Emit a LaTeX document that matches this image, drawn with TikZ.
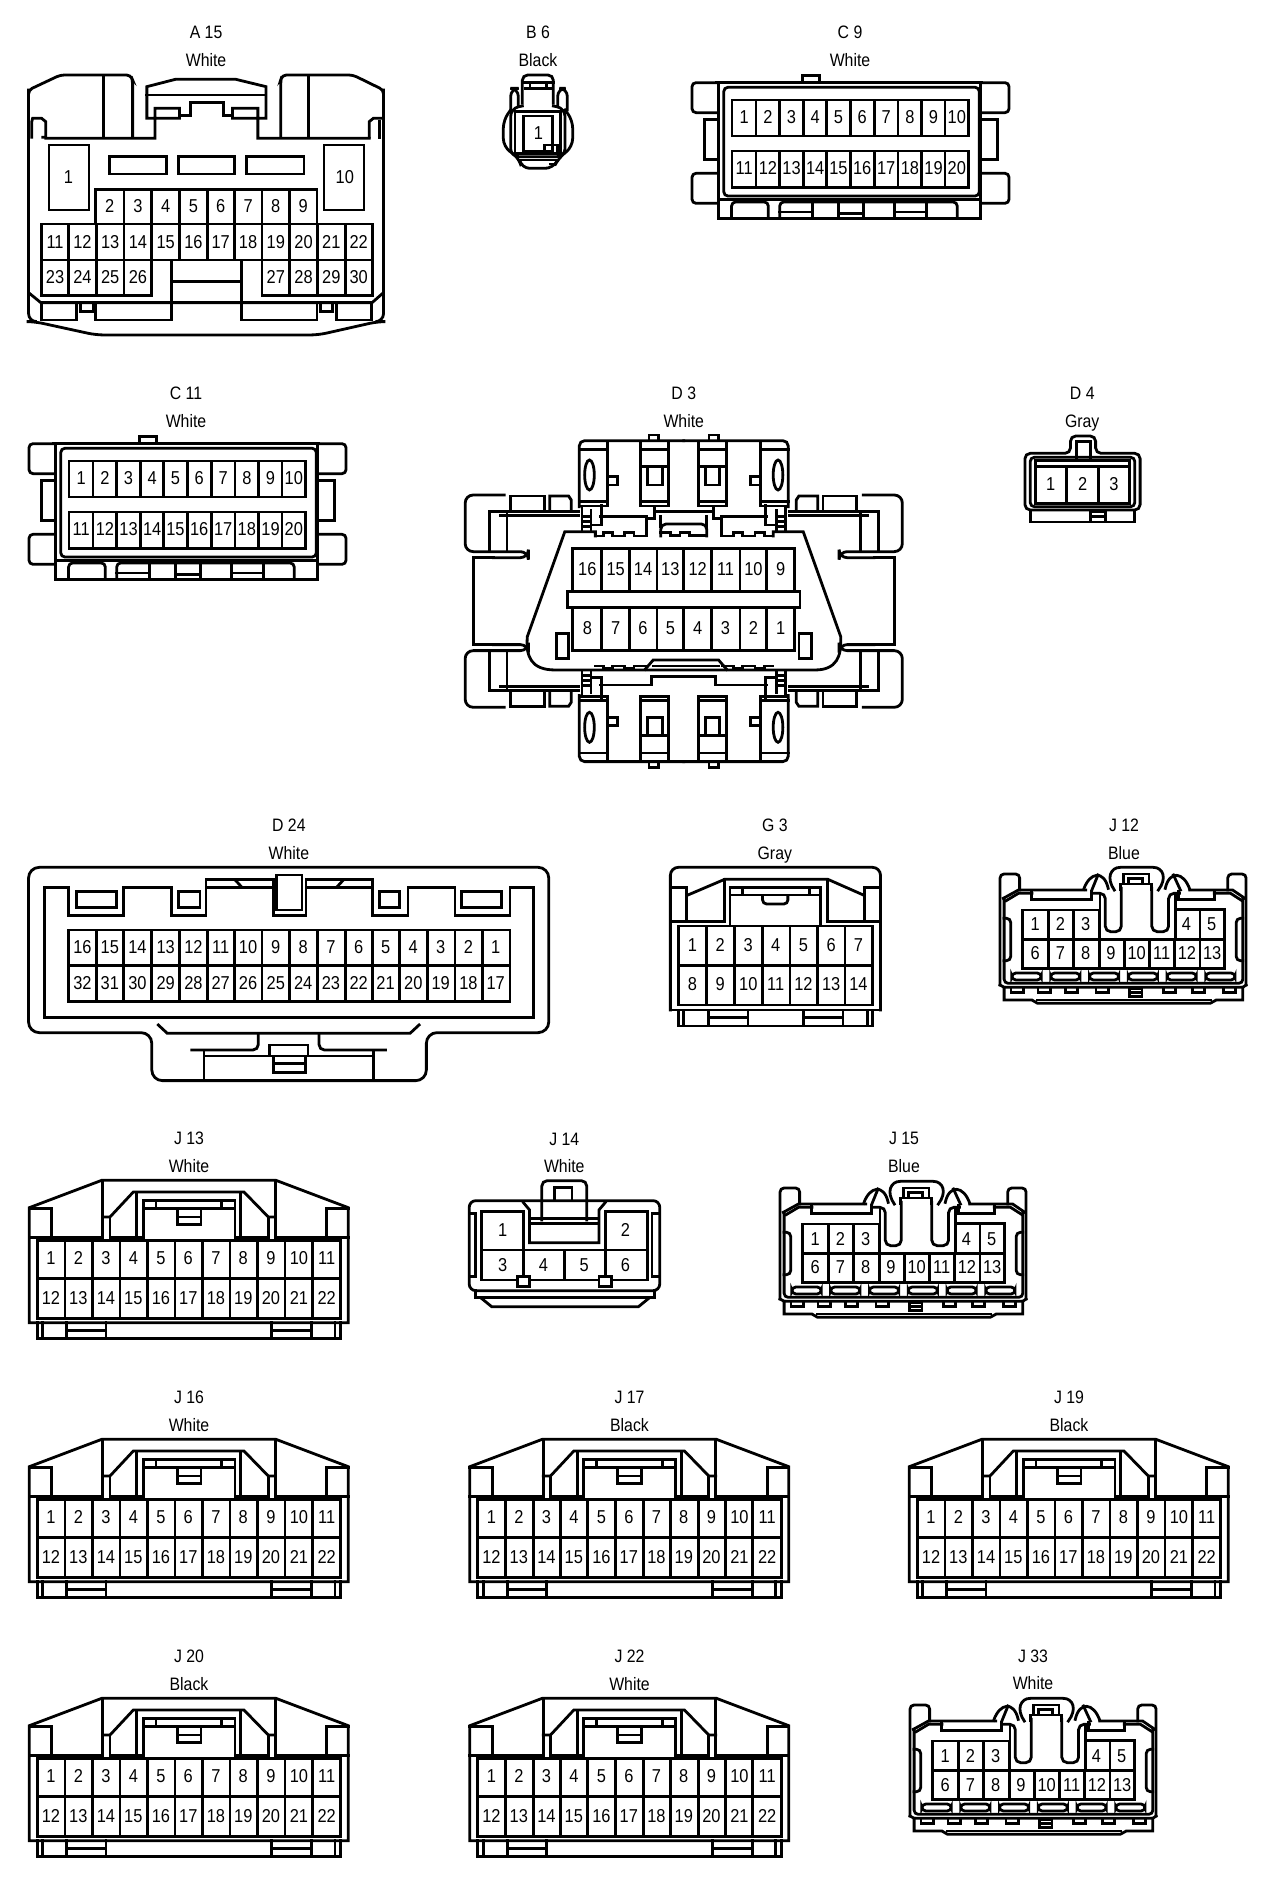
\documentclass[tikz,border=0pt]{standalone}
\usepackage{fontspec}
\newfontfamily\pinfont[FakeStretch=0.88]{Liberation Sans}
\usetikzlibrary{positioning, calc}

\tikzset{
    pinnum/.style={font=\pinfont\fontsize{14}{14}\selectfont, inner sep=0pt, text height=10pt, text depth=0pt},
    lbl/.style={font=\pinfont\fontsize{13.5}{14}\selectfont, inner sep=0pt, text height=10pt, text depth=0pt},
    cropA/.style={xscale=0.408, yscale=0.3333},
    cropD/.style={xscale=0.5357, yscale=0.3333},
    cropT/.style={scale=0.3333},
    % two row white block with ten pins a row
    clipten/.pic={
        \draw[rounded corners=3pt] (190,338) -- (125,338) -- (125,248) -- (190,248);
        \draw[rounded corners=3pt] (190,520) -- (125,520) -- (125,610) -- (190,610);
        \draw (190,358) -- (155,358) -- (155,478) -- (190,478);
        \draw[rounded corners=3pt] (835,338) -- (902,338) -- (902,248) -- (835,248);
        \draw[rounded corners=3pt] (835,520) -- (902,520) -- (902,610) -- (835,610);
        \draw (835,358) -- (873,358) -- (873,478) -- (835,478);
        \draw (395,246) -- (395,226) -- (438,226) -- (438,246);
        \draw (185,248) -- (835,248);
        \draw (190,248) -- (190,655) -- (833,655) -- (833,248);
        \draw[rounded corners=3pt] (203,262) rectangle (829,588);
        \draw (190,598) -- (833,598);
        \draw (223,300) rectangle (803,408);
        \draw (223,453) rectangle (803,563);
        \foreach \x in {282,340,398,455,513,572,630,688,745} {
            \draw (\x,300) -- (\x,408);
            \draw (\x,453) -- (\x,563);
        }
        \foreach \x [count=\n] in {253,311,369,427,484,542,601,659,717,774} {
            \pgfmathtruncatemacro{\m}{\n+10}
            \node[pinnum] (p\n) at (\x,352) {\n};
            \node[pinnum] (p\m) at (\x,505) {\m};
        }
        % tabs along the foot
        \draw[rounded corners=3pt] (222,652) -- (222,606) -- (312,606) -- (312,652);
        \draw[rounded corners=3pt] (340,652) -- (340,606) -- (775,606) -- (775,652);
        \draw (340,636) -- (420,636) -- (420,606);
        \draw (420,636) -- (420,652);
        \draw (484,606) -- (484,652);
        \draw (484,640) -- (545,640);
        \draw (545,606) -- (545,652);
        \draw (622,606) -- (622,652);
        \draw (622,636) -- (700,636);
        \draw (700,606) -- (700,652);
    },
    % the eleven by two housing
    twentytwo/.pic={
        \draw (88,230) -- (305,148) -- (828,148) -- (1045,230) -- (1045,575) -- (88,575) -- cycle;
        \draw (308,155) -- (308,320) -- (88,320);
        \draw (826,155) -- (826,320) -- (1045,320);
        \draw (88,232) -- (155,232) -- (155,315);
        \draw (1045,232) -- (980,232) -- (980,315);
        \draw (308,258) -- (330,258) -- (400,183) -- (732,183) -- (805,258) -- (826,258);
        \draw (330,258) -- (330,320) -- (430,320);
        \draw (805,258) -- (805,320) -- (705,320);
        \draw (410,183) -- (410,318);
        \draw (722,183) -- (722,318);
        \draw (430,325) -- (430,208) -- (705,208) -- (705,325);
        \draw (430,232) -- (705,232);
        \draw (468,208) -- (468,232);
        \draw (665,208) -- (665,232);
        \draw (532,232) -- (532,280) -- (603,280) -- (603,232);
        \draw (532,258) -- (603,258);
        \draw (112,328) rectangle (1022,562);
        \draw (112,443) -- (1022,443);
        \foreach \x in {195,278,360,442,525,608,690,773,855,937}
            \draw (\x,328) -- (\x,562);
        \foreach \x [count=\n] in {153,235,318,400,483,565,648,730,813,897,980} {
            \pgfmathtruncatemacro{\m}{\n+11}
            \node[pinnum] (p\n) at (\x,381) {\n};
            \node[pinnum] (p\m) at (\x,501) {\m};
        }
        \draw (112,575) -- (112,622) -- (1022,622) -- (1022,575);
        \foreach \x in {128,200,318,815,935,1005}
            \draw (\x,575) -- (\x,622);
        \draw (200,598) -- (318,598);
        \draw (815,598) -- (935,598);
    },
    % the thirteen pin shroud
    thirteen/.pic={
        \draw[rounded corners=3pt] (880,525) -- (880,192) -- (928,192) -- (928,240);
        \draw[rounded corners=3pt] (1438,240) -- (1438,192) -- (1483,192) -- (1483,525);
        \draw (888,265) -- (925,240) -- (1090,240);
        \draw (895,272) -- (925,250) -- (958,250);
        \draw (1345,240) -- (1450,240) -- (1480,265);
        \draw (1405,250) -- (1445,250) -- (1473,272);
        \draw (1085,238) .. controls (1100,185) and (1135,180) .. (1145,235);
        \draw (1105,240) -- (1120,195);
        \draw (1285,235) .. controls (1295,180) and (1330,185) .. (1345,238);
        \draw (1305,195) -- (1322,240);
        \draw (1160,240) .. controls (1140,205) and (1150,172) .. (1175,172) -- (1255,172) .. controls (1280,172) and (1290,205) .. (1268,240);
        \draw (1182,222) -- (1182,192) -- (1245,192) -- (1245,222);
        \draw (1195,222) -- (1195,205) -- (1230,205) -- (1230,222);
        \draw (1175,240) -- (1175,222) -- (1252,222) -- (1252,240);
        \draw[rounded corners=4pt] (1105,250) -- (1138,250) -- (1138,365) -- (1177,365) -- (1177,235);
        \draw (1125,250) -- (1125,300);
        \draw[rounded corners=4pt] (1252,235) -- (1252,365) -- (1293,365) -- (1293,250) -- (1320,250);
        \draw (1310,250) -- (1310,300);
        \draw[rounded corners=3pt] (890,265) -- (890,520) -- (1475,520) -- (1475,265);
        \draw (880,525) -- (890,532) -- (1475,532) -- (1483,525);
        \draw (958,245) -- (958,268) -- (1105,268) -- (1105,245);
        \draw (1318,245) -- (1318,268) -- (1405,268) -- (1405,245);
        % pin block
        \draw (935,475) -- (935,300) -- (1123,300) -- (1123,388) -- (1310,388) -- (1310,298) -- (1430,298) -- (1430,475) -- cycle;
        \draw (935,388) -- (1123,388);
        \draw (1310,388) -- (1430,388);
        \foreach \x in {998,1060,1370} \draw (\x,300) -- (\x,475);
        \foreach \x in {1123,1185,1247,1308} \draw (\x,388) -- (\x,475);
        \foreach \x [count=\n] in {966,1028,1090,1337,1399}
            \node[pinnum] (p\n) at (\x,343) {\n};
        \foreach \x [count=\n from 6] in {966,1028,1090,1152,1215,1276,1338,1400}
            \node[pinnum] (p\n) at (\x,430) {\n};
        % side grips
        \draw[rounded corners=3pt] (890,325) -- (906,325) -- (906,452) -- (890,452);
        \draw[rounded corners=3pt] (1475,325) -- (1459,325) -- (1459,452) -- (1475,452);
        % slots
        \foreach \x in {945,1040,1135,1230,1325,1420}
            \draw[rounded corners=3pt] (\x-36,489) rectangle (\x+36,510);
        % foot
        \draw (890,532) -- (890,570) -- (958,570) -- (972,580) -- (1395,580) -- (1410,570) -- (1475,570) -- (1475,532);
        \draw (972,570) -- (1395,570);
        \foreach \x in {922,988,1055,1130,1295,1367,1443}
            \draw (\x-15,536) -- (\x-15,548) -- (\x+15,548) -- (\x+15,536);
        \draw (1198,536) rectangle (1228,560);
        \draw (1198,548) -- (1228,548);
    }
}

\begin{document}
\begin{tikzpicture}[x=0.75pt, y=-0.75pt, line width=2.1pt, line cap=rect]
    \path[use as bounding box, fill=white] (0,0) rectangle (1280,1894);

    % A 15
    \begin{scope}[cropA]
        \node[lbl] (a15id) at (505,97) {A 15};
        \node[lbl] (a15col) at (505,180) {White};
        \draw[rounded corners=3pt] (70,360) -- (70,270) -- (148,225) -- (320,225) -- (325,240) -- (325,412);
        \draw[rounded corners=3pt] (940,360) -- (940,270) -- (865,225) -- (692,225) -- (688,240) -- (688,412);
        \draw[rounded corners=6pt] (70,270) -- (70,965) -- (85,965) -- (235,1005) -- (780,1005) -- (925,965) -- (940,965) -- (940,270);
        \draw (253,228) -- (253,412);
        \draw (756,228) -- (756,412);
        \draw (112,415) -- (380,415) -- (380,325) -- (440,325) -- (440,355) -- (380,355) -- (360,355) -- (360,260) -- (430,238) -- (578,238) -- (652,260) -- (652,355) -- (570,355) -- (570,325) -- (632,325) -- (632,415) -- (905,415);
        \draw (360,285) -- (652,285);
        \draw (440,346) -- (467,346) -- (467,308) -- (547,308) -- (547,346) -- (570,346);
        \draw (105,412) -- (112,412) -- (112,365) -- (102,355) -- (80,355) -- (78,365) -- (78,412);
        \draw (905,412) -- (905,365) -- (915,355) -- (935,355);
        \draw (930,365) -- (930,412);
        \draw (120,435) rectangle (218,630);
        \draw (794,435) rectangle (892,630);
        \draw (268,470) rectangle (408,522);
        \draw (438,470) rectangle (575,522);
        \draw (605,470) rectangle (745,522);
        \node[pinnum] (a15p1) at (168,530) {1};
        \node[pinnum] (a15p10) at (845,530) {10};
        \draw (235,670) -- (235,568) -- (777,568) -- (777,670);
        \foreach \x in {304,372,440,508,574,642,710} \draw (\x,568) -- (\x,670);
        \foreach \x [count=\n from 2] in {269,338,406,474,541,608,676,743}
            \node[pinnum] (a15p\n) at (\x,618) {\n};
        \draw (102,672) rectangle (912,780);
        \foreach \x in {168,236,304,372,440,508,574,642,710,778,846} \draw (\x,672) -- (\x,780);
        \foreach \x [count=\n from 11] in {135,202,270,338,406,474,541,608,676,744,812,879}
            \node[pinnum] (a15p\n) at (\x,725) {\n};
        \draw (102,780) rectangle (372,886);
        \draw (642,780) rectangle (912,886);
        \foreach \x in {168,236,304,710,778,846} \draw (\x,780) -- (\x,886);
        \foreach \x [count=\n from 23] in {135,202,270,338}
            \node[pinnum] (a15p\n) at (\x,832) {\n};
        \foreach \x [count=\n from 27] in {676,744,812,879}
            \node[pinnum] (a15p\n) at (\x,832) {\n};
        \draw (420,780) -- (420,960) -- (235,960) -- (235,910);
        \draw (592,780) -- (592,960) -- (777,960) -- (777,910);
        \draw (420,845) -- (592,845);
        \draw (72,880) -- (100,908) -- (912,908) -- (938,880);
        \draw (102,910) -- (102,960) -- (188,960) -- (188,910);
        \draw (198,910) -- (198,935) -- (228,935) -- (228,910);
        \draw (786,910) -- (786,935) -- (815,935) -- (815,910);
        \draw (824,910) -- (824,960) -- (910,960) -- (910,910);
    \end{scope}

    % B 6
    \node[lbl] (b6id) at (538,32) {B 6};
    \node[lbl] (b6col) at (538,60) {Black};
    \begin{scope}[shift={(490,60)}, cropT]
        \draw[rounded corners=4pt] (97,130) -- (97,45) -- (190,45) -- (190,130);
        \draw (97,68) -- (190,68);
        \draw (105,85) -- (183,85);
        \draw (120,68) -- (120,85);
        \draw (170,68) -- (170,85);
        \draw[rounded corners=6pt] (62,150) -- (62,85) -- (85,85) -- (85,138);
        \draw[rounded corners=6pt] (203,138) -- (203,85) -- (232,85) -- (232,150);
        \draw[rounded corners=6pt] (62,150) -- (40,180) -- (40,260) -- (88,295) -- (95,325) -- (190,325) -- (205,295) -- (248,260) -- (248,180) -- (225,150);
        \draw[rounded corners=6pt] (97,138) -- (62,145) -- (62,290) -- (225,290) -- (225,145) -- (190,138);
        \draw (75,155) rectangle (212,280);
        \draw (100,168) rectangle (188,275);
        \node[pinnum] (b6p1) at (145,220) {1};
        \draw (163,275) -- (163,255) -- (203,255) -- (203,280) -- (163,280);
        \draw (90,300) -- (200,300);
        \draw (180,312) -- (198,312);
    \end{scope}

    % C 9, C 11
    \node[lbl] (c9id) at (850,32) {C 9};
    \node[lbl] (c9col) at (850,60) {White};
    \pic[cropA] (c9) at (641,0) {clipten};
    \node[lbl] (c11id) at (186,393) {C 11};
    \node[lbl] (c11col) at (186,421) {White};
    \pic[cropA] (c11) at (-22,361) {clipten};

    % D 3
    \begin{scope}[shift={(440,370)}, cropD]
        \node[lbl] (d3id) at (455,70) {D 3};
        \node[lbl] (d3col) at (455,153) {White};
        \foreach \mx/\sx in {0/1,910/-1} \foreach \my/\sy in {0/1,1387/-1} {
            \begin{scope}[shift={(\mx,\my)}, xscale=\sx, yscale=\sy]
                % clip housing
                \draw[rounded corners=4pt] (260,410) -- (260,212) -- (455,212);
                \draw (312,215) -- (312,405);
                \draw (375,215) -- (375,408) -- (427,408) -- (427,215);
                \draw (260,238) -- (312,238);
                \draw (375,238) -- (427,238);
                \draw (375,290) -- (427,290);
                \draw (388,290) -- (388,345) -- (415,345) -- (415,290);
                \draw (279,315) ellipse (9 and 45);
                \draw (315,320) -- (331,320) -- (331,345) -- (315,345);
                \draw (390,212) -- (390,195) -- (408,195) -- (408,212);
                \draw (260,395) -- (312,395);
                \draw (375,395) -- (427,395);
                \draw (262,408) -- (312,408);
                % ladder beside it
                \draw (265,408) -- (265,480);
                \draw (282,420) -- (282,480);
                \foreach \y in {440,455,470} \draw (265,\y) -- (282,\y);
                \draw (302,405) -- (302,465) -- (285,465);
                % side wing
                \draw[rounded corners=6pt] (120,375) -- (47,375) -- (47,545) -- (165,545) -- (165,563) -- (100,563);
                \draw (100,563) -- (62,563) -- (62,693.5);
                \draw (92,545) -- (92,425) -- (258,425);
                \draw (125,425) -- (125,545);
                \draw (112,437) -- (258,437);
                \draw (132,420) -- (132,378) -- (195,378) -- (195,420);
                \draw (205,420) -- (205,378) -- (240,378) -- (245,390) -- (245,420);
            \end{scope}
        }
        % OBD body
        \draw (290,498) -- (290,485) -- (233,485) -- (163,800) .. controls (160,860) and (170,900) .. (215,900) -- (700,900) .. controls (740,900) and (750,860) .. (748,800) -- (678,485) -- (622,485) -- (622,498);
        \foreach \mx/\sx in {0/1,910/-1} {
            \begin{scope}[shift={(\mx,0)}, xscale=\sx]
                \draw (290,498) -- (305,498) -- (305,488) -- (322,488) -- (322,498) -- (345,498) -- (345,488) -- (362,488) -- (362,498) -- (385,498) -- (385,445) -- (400,445) -- (400,408);
                \draw (300,440) -- (385,440);
                \draw (412,440) -- (412,470);
                \draw (300,945) -- (395,945) -- (395,920) -- (455,920);
                \draw (290,888) -- (305,888) -- (305,896) -- (322,896) -- (322,888) -- (345,888) -- (345,896) -- (362,896) -- (362,888) -- (383,888);
            \end{scope}
        }
        \draw (400,425) -- (510,425);
        \draw[rounded corners=4pt] (412,498) -- (412,462) -- (498,462) -- (498,498);
        \draw (412,487) -- (430,487) -- (430,496) -- (448,496) -- (448,487) -- (466,487) -- (466,496) -- (498,496);
        \draw (383,898) -- (398,870) -- (520,870) -- (535,898);
        \draw (398,888) -- (520,888);
        % pins
        \draw (248,535) rectangle (662,842);
        \draw[fill=white] (238,664) rectangle (672,712);
        \foreach \x in {302,354,405,455,507,560,610} {
            \draw (\x,535) -- (\x,664);
            \draw (\x,712) -- (\x,842);
        }
        \foreach \x [count=\n] in {636,585,533,481,430,379,328,275} {
            \pgfmathtruncatemacro{\m}{\n+8}
            \node[pinnum] (d3p\n) at (\x,773) {\n};
            \node[pinnum] (d3p\m) at (\x,597) {\m};
        }
        \draw (218,790) rectangle (240,865);
        \draw (670,790) rectangle (693,865);
    \end{scope}

    % D 4
    \begin{scope}[shift={(441,370)}, cropD]
        \node[lbl] (d4id) at (1197,70) {D 4};
        \node[lbl] (d4col) at (1197,153) {Gray};
        \draw[rounded corners=4pt] (1175,250) -- (1090,250) -- (1090,420) -- (1305,420) -- (1305,250) -- (1222,250) -- (1222,198) -- (1175,198) -- cycle;
        \draw[rounded corners=3pt] (1100,262) rectangle (1295,410);
        \draw (1186,262) -- (1186,215) -- (1212,215) -- (1212,262);
        \draw (1110,272) rectangle (1285,400);
        \draw (1110,290) -- (1285,290);
        \draw (1168,290) -- (1168,400);
        \draw (1228,290) -- (1228,400);
        \foreach \x [count=\n] in {1138,1198,1256}
            \node[pinnum] (d4p\n) at (\x,343) {\n};
        \draw (1100,420) -- (1100,456) -- (1295,456) -- (1295,420);
        \draw (1212,425) -- (1212,456);
        \draw (1240,425) -- (1240,456);
        \draw (1212,425) -- (1240,425);
        \draw (1212,440) -- (1240,440);
    \end{scope}

    % D 24
    \begin{scope}[shift={(0,810)}, cropA]
        \node[lbl] (d24id) at (708,45) {D 24};
        \node[lbl] (d24col) at (708,128) {White};
        \draw[rounded corners=8pt] (70,172) -- (1345,172) -- (1345,668) -- (1045,668) -- (1045,812) -- (372,812) -- (372,668) -- (70,668) -- cycle;
        \draw (110,622) -- (110,232) -- (167,232) -- (167,316) -- (303,316) -- (303,232) -- (420,232) -- (420,316) -- (505,316) -- (505,208) -- (670,208) -- (670,316) -- (750,316) -- (750,208) -- (912,208) -- (912,316) -- (1000,316) -- (1000,232) -- (1115,232) -- (1115,316) -- (1250,316) -- (1250,232) -- (1308,232) -- (1308,622) -- cycle;
        \draw (505,232) -- (670,232);
        \draw (750,232) -- (912,232);
        \draw (678,300) -- (678,195) -- (740,195) -- (740,300) -- cycle;
        \draw (578,212) -- (590,228);
        \draw (840,212) -- (828,228);
        \draw (187,245) rectangle (286,292);
        \draw (438,245) rectangle (490,292);
        \draw (930,245) rectangle (980,292);
        \draw (1132,245) rectangle (1230,292);
        \draw (167,360) rectangle (1250,575);
        \draw (167,467) -- (1250,467);
        \foreach \x in {236,303,372,440,508,574,642,710,778,846,912,980,1048,1115,1182}
            \draw (\x,360) -- (\x,575);
        \foreach \x [count=\n] in {1215,1148,1080,1013,945,879,811,743,676,608,541,474,406,337,269,202} {
            \pgfmathtruncatemacro{\m}{\n+16}
            \node[pinnum] (d24p\n) at (\x,410) {\n};
            \node[pinnum] (d24p\m) at (\x,518) {\m};
        }
        \draw (388,645) -- (410,670) -- (1005,670) -- (1027,645);
        \draw[rounded corners=4pt] (633,672) -- (633,720) -- (470,720);
        \draw[rounded corners=4pt] (782,672) -- (782,720) -- (945,720);
        \draw (500,720) -- (500,805);
        \draw (915,720) -- (915,805);
        \draw (500,738) -- (915,738);
        \draw (660,738) -- (660,705) -- (755,705) -- (755,738);
        \draw (670,738) -- (670,788) -- (748,788) -- (748,738);
        \draw (670,760) -- (748,760);
    \end{scope}

    % G 3
    \begin{scope}[shift={(641,810)}, cropA]
        \node[lbl] (g3id) at (328,45) {G 3};
        \node[lbl] (g3col) at (328,128) {Gray};
        \draw[rounded corners=6pt] (72,600) -- (72,172) -- (587,172) -- (587,600);
        \draw (72,600) -- (587,600);
        \draw (115,255) -- (205,208) -- (458,208) -- (545,255);
        \draw (72,232) -- (112,232) -- (112,335);
        \draw (587,232) -- (547,232) -- (547,335);
        \draw (72,335) -- (205,335) -- (205,208);
        \draw (587,335) -- (458,335) -- (458,208);
        \draw (218,345) -- (218,232) -- (440,232) -- (440,345);
        \draw (218,255) -- (440,255);
        \draw (248,232) -- (248,255);
        \draw (412,232) -- (412,255);
        \draw[rounded corners=3pt] (298,258) -- (298,282) -- (360,282) -- (360,258);
        \draw (92,348) rectangle (568,585);
        \draw (92,467) -- (568,467);
        \foreach \x in {160,230,297,365,432,500} \draw (\x,348) -- (\x,585);
        \foreach \x [count=\n] in {126,194,263,330,398,466,533} {
            \pgfmathtruncatemacro{\m}{\n+7}
            \node[pinnum] (g3p\n) at (\x,406) {\n};
            \node[pinnum] (g3p\m) at (\x,523) {\m};
        }
        \draw (92,600) -- (92,648) -- (568,648) -- (568,600);
        \foreach \x in {105,165,262,398,495,555} \draw (\x,600) -- (\x,648);
        \draw (165,622) -- (262,622);
        \draw (398,622) -- (495,622);
    \end{scope}

    % J 12, J 15, J 33
    \node[lbl] (j12id) at (1124,825) {J 12};
    \node[lbl] (j12col) at (1124,853) {Blue};
    \pic[cropA] (j12) at (641,810) {thirteen};
    \node[lbl] (j15id) at (904,1138) {J 15};
    \node[lbl] (j15col) at (904,1166) {Blue};
    \pic[cropA] (j15) at (421,1124) {thirteen};
    \node[lbl] (j33id) at (1033,1656) {J 33};
    \node[lbl] (j33col) at (1033,1683) {White};
    \pic[cropA] (j33) at (551,1641) {thirteen};

    % J 14
    \begin{scope}[shift={(0,1130)}, cropA]
        \node[lbl] (j14id) at (1383,25) {J 14};
        \node[lbl] (j14col) at (1383,108) {White};
        \draw[rounded corners=5pt] (1150,482) -- (1150,212) -- (1617,212) -- (1617,482) -- cycle;
        \draw (1150,250) -- (1165,250) -- (1165,440) -- (1150,440);
        \draw (1617,250) -- (1598,250) -- (1598,440) -- (1617,440);
        \draw (1283,360) -- (1283,245) -- (1180,245) -- (1180,450) -- (1586,450) -- (1586,245) -- (1485,245) -- (1485,360);
        \draw (1180,360) -- (1586,360);
        \foreach \x in {1283,1383,1485} \draw (\x,360) -- (\x,450);
        \node[pinnum] (j14p1) at (1232,300) {1};
        \node[pinnum] (j14p2) at (1533,300) {2};
        \foreach \x [count=\n from 3] in {1232,1332,1432,1533}
            \node[pinnum] (j14p\n) at (\x,405) {\n};
        \draw (1283,218) -- (1298,240) -- (1298,338) -- (1468,338) -- (1468,240) -- (1483,218);
        \draw (1298,265) -- (1468,265);
        \draw (1298,280) -- (1468,280);
        \draw[rounded corners=4pt] (1328,270) -- (1328,152) -- (1438,152) -- (1438,270);
        \draw (1360,210) -- (1360,172) -- (1402,172) -- (1402,210);
        \draw[fill=white] (1268,440) rectangle (1298,470);
        \draw[fill=white] (1468,440) rectangle (1498,470);
        \draw (1165,482) -- (1165,503) -- (1605,503) -- (1605,482);
        \draw (1180,505) -- (1205,530) -- (1565,530) -- (1590,505);
    \end{scope}

    % J 13, J 16, J 17, J 19, J 20, J 22
    \node[lbl] (j13id) at (189,1138) {J 13};
    \node[lbl] (j13col) at (189,1166) {White};
    \pic[cropT] (j13) at (0,1131) {twentytwo};
    \foreach \nm/\lab/\col/\x/\y in {j16/J 16/White/0/1390, j17/J 17/Black/440.5/1390, j19/J 19/Black/880/1390, j20/J 20/Black/0/1649, j22/J 22/White/440.5/1649} {
        \node[lbl] (\nm id) at (\x+189,\y+7) {\lab};
        \node[lbl] (\nm col) at (\x+189,\y+35) {\col};
        \pic[cropT] (\nm) at (\x,\y) {twentytwo};
    }
\end{tikzpicture}
\end{document}
